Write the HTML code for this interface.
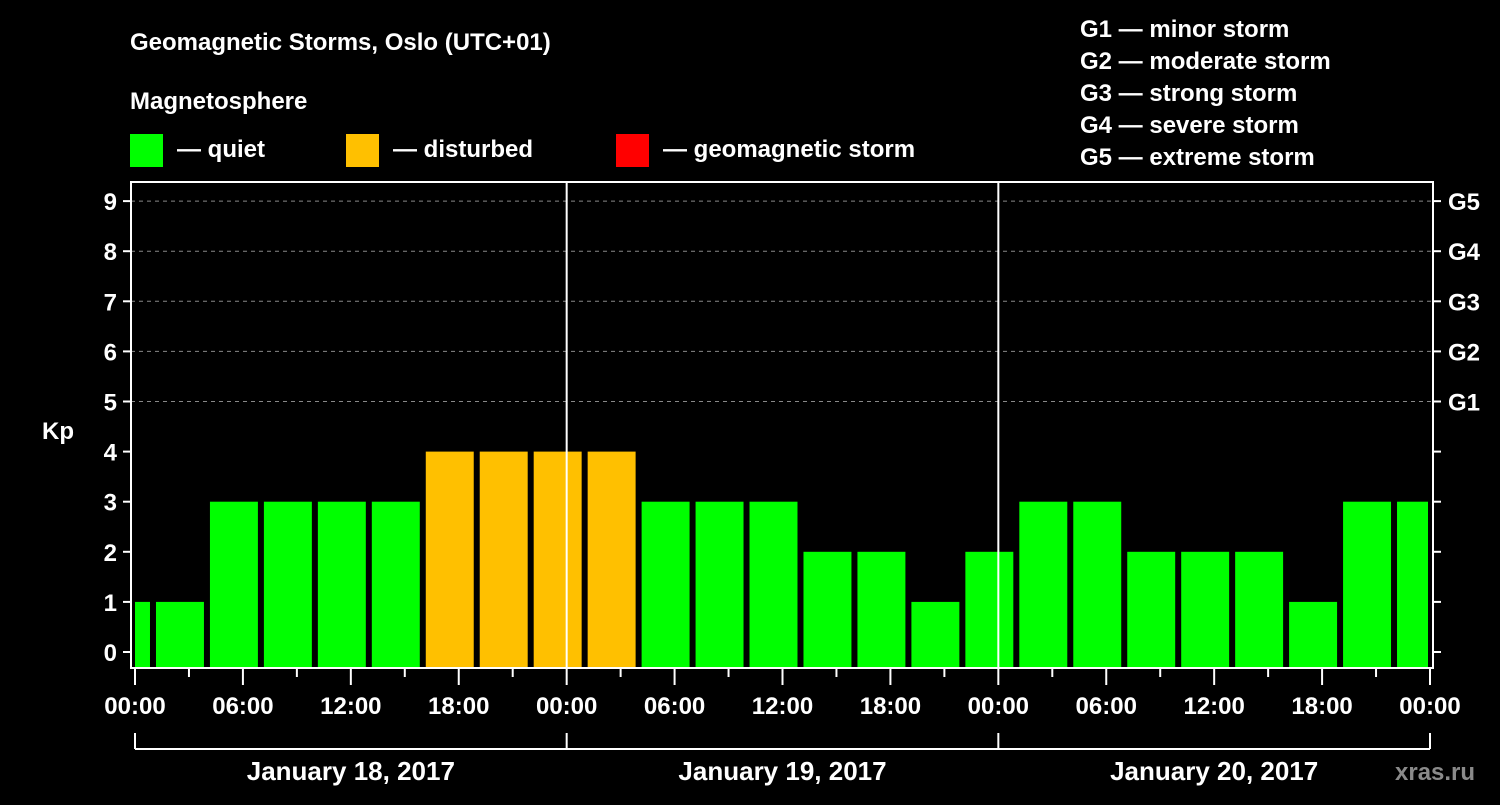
<!DOCTYPE html>
<html><head><meta charset="utf-8"><style>
body{margin:0;background:#000;width:1500px;height:800px;overflow:hidden}
svg text{font-family:"Liberation Sans",Arial,sans-serif;font-weight:bold;fill:#fff}
</style></head><body>
<svg id="c" width="1500" height="800" viewBox="0 0 1500 800">
<rect width="1500" height="800" fill="#000"/>
<text x="130" y="50" font-size="24">Geomagnetic Storms, Oslo (UTC+01)</text>
<text x="130" y="109" font-size="24">Magnetosphere</text>
<g><rect x="130" y="134" width="33" height="33" fill="#00ff00"/><text x="177" y="157" font-size="24">— quiet</text></g>
<g><rect x="346" y="134" width="33" height="33" fill="#ffc000"/><text x="393" y="157" font-size="24">— disturbed</text></g>
<g><rect x="616" y="134" width="33" height="33" fill="#ff0000"/><text x="663" y="157" font-size="24">— geomagnetic storm</text></g>
<g font-size="24">
<text x="1080" y="37">G1 — minor storm</text>
<text x="1080" y="69">G2 — moderate storm</text>
<text x="1080" y="101">G3 — strong storm</text>
<text x="1080" y="133">G4 — severe storm</text>
<text x="1080" y="165">G5 — extreme storm</text>
</g>
<text x="42" y="439" font-size="24">Kp</text>
<text x="1395" y="780" font-size="24" fill="#888" style="fill:#8a8a8a">xras.ru</text>
<g id="plot"></g>
</svg>
<script>
const kpValues=[1,1,3,3,3,3,4,4,4,4,3,3,3,2,2,1,2,3,3,2,2,2,1,3,3];
const barStartHours=[-2,1,4,7,10,13,16,19,22,25,28,31,34,37,40,43,46,49,52,55,58,61,64,67,70];
const yTicks=[0,1,2,3,4,5,6,7,8,9];
const gLabels=["G1","G2","G3","G4","G5"];
const xTickLabels=["00:00","06:00","12:00","18:00","00:00","06:00","12:00","18:00","00:00","06:00","12:00","18:00","00:00"];
const dayLabels=["January 18, 2017","January 19, 2017","January 20, 2017"];
const NS="http://www.w3.org/2000/svg";
const L=131,R=1433,T=182,B=668,X0=135,X1=1430;
const x=h=>X0+(X1-X0)*h/72;
const y=v=>652-50.1*v;
const p=document.getElementById('plot');
function mk(t,a){const e=document.createElementNS(NS,t);for(const k in a)e.setAttribute(k,a[k]);p.appendChild(e);return e;}
// grid
for(let v=5;v<=9;v++){const e=mk('line',{x1:L,x2:R,y1:y(v),y2:y(v),stroke:'#888','stroke-dasharray':'4,4','stroke-width':1});

}
// bars
kpValues.forEach((v,i)=>{
 let a=x(barStartHours[i])+3,b=x(barStartHours[i]+3)-3;
 a=Math.max(a,X0);b=Math.min(b,X1-2);
 const col=v>=5?'#ff0000':(v>=4?'#ffc000':'#00ff00');
 const r=mk('rect',{x:a,y:y(v),width:b-a,height:B-y(v),fill:col});
 
 
});
// day separators
[24,48].forEach((h,i)=>{const e=mk('line',{x1:x(h),x2:x(h),y1:T,y2:B,stroke:'#fff','stroke-width':2});

});
// frame
const f=mk('rect',{x:L,y:T,width:R-L,height:B-T,fill:'none',stroke:'#fff','stroke-width':2});


// y ticks
yTicks.forEach(v=>{
 mk('line',{x1:L-8,x2:L,y1:y(v),y2:y(v),stroke:'#fff','stroke-width':2});
 mk('line',{x1:R,x2:R+8,y1:y(v),y2:y(v),stroke:'#fff','stroke-width':2});
 const t=mk('text',{x:L-14,y:y(v)+9,'font-size':24,'text-anchor':'end'});t.textContent=v;
 
 
});
gLabels.forEach((g,i)=>{const t=mk('text',{x:1448,y:y(i+5)+9,'font-size':24});t.textContent=g;
 
 });
// x ticks
for(let h=0;h<=72;h+=3){const maj=h%6==0;mk('line',{x1:x(h),x2:x(h),y1:B,y2:B+(maj?17:9),stroke:'#fff','stroke-width':2});}
xTickLabels.forEach((s,i)=>{const t=mk('text',{x:x(i*6),y:714,'font-size':24,'text-anchor':'middle'});t.textContent=s;
 
 });
// day bracket
mk('line',{x1:X0,x2:X1,y1:749,y2:749,stroke:'#fff','stroke-width':2});
[0,24,48,72].forEach(h=>mk('line',{x1:x(h),x2:x(h),y1:733,y2:749,stroke:'#fff','stroke-width':2}));
dayLabels.forEach((s,i)=>{const t=mk('text',{x:x(i*24+12),y:780,'font-size':26,'text-anchor':'middle'});t.textContent=s;
 
 });
</script>
</body></html>
